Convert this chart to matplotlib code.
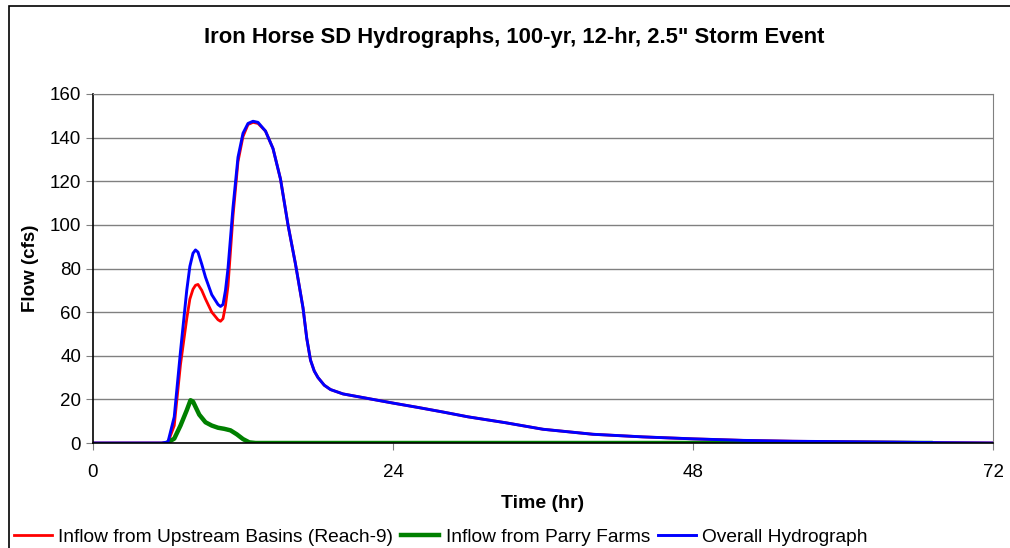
#!/usr/bin/env python3
import matplotlib
matplotlib.use('Agg')
import matplotlib.pyplot as plt
from matplotlib.patches import Rectangle

plt.rcParams['font.family'] = ['Liberation Sans', 'DejaVu Sans']

# time (hr) shared by the reach-9 inflow and the overall hydrograph
hours = [0, 5.5, 6, 6.5, 7, 7.5, 7.75, 8, 8.2, 8.4, 8.7, 9, 9.5, 10, 10.2,
         10.4, 10.6, 10.8, 11.2, 11.6, 12, 12.4, 12.8, 13.2, 13.8, 14.4, 15,
         15.6, 16.2, 16.8, 17.1, 17.4, 17.7, 18, 18.5, 19, 20, 22, 24, 26,
         28, 30, 33, 36, 40, 44, 48, 52, 56, 60, 64, 68, 72]

upstream_cfs = [0, 0, 0.3, 8, 36, 57, 66, 70.5, 72.3, 72.7, 70, 66, 60, 56.5,
                55.8, 57, 63, 72, 104, 129, 140.5, 146, 147, 146.5, 143, 135,
                121, 100, 82, 62, 48, 38, 33, 30, 26.5, 24.5, 22.5, 20.4,
                18.3, 16.3, 14.2, 12, 9.3, 6.3, 4.0, 2.8, 1.9, 1.2, 0.8, 0.6,
                0.4, 0.15, 0]

overall_cfs = [0, 0, 0.5, 12, 42, 70, 81, 87, 88.5, 87.5, 82, 76, 68, 63.5,
               62.6, 63.5, 70, 80, 108, 131, 142, 146.5, 147.5, 147, 143, 135,
               121, 100, 82, 62, 48, 38, 33, 30, 26.5, 24.5, 22.5, 20.4,
               18.3, 16.3, 14.2, 12, 9.3, 6.3, 4.0, 2.8, 1.9, 1.2, 0.8, 0.6,
               0.4, 0.15, 0]

# Parry Farms inflow only plotted from ~6 hr to ~67 hr
parry_hours = [5.9, 6.5, 7, 7.5, 7.8, 8, 8.5, 9, 9.5, 10, 10.5, 11, 11.5,
               12, 12.5, 13, 20, 40, 67]
parry_cfs = [0, 2, 8, 15, 19.6, 19, 13, 9.5, 8, 7, 6.5, 5.8, 4, 1.8, 0.3,
             0, 0, 0, 0]

x_ticks = [0, 24, 48, 72]
y_ticks = [0, 20, 40, 60, 80, 100, 120, 140, 160]

fig = plt.figure(figsize=(10.1, 5.48), dpi=100)
ax = fig.add_axes([93 / 1010, 1 - 443 / 548, 900 / 1010, 349 / 548])

# outer chart border (runs off the right and bottom edges)
fig.patches.append(Rectangle((9 / 1010, -0.05), 1.1, 1 - 6 / 548 + 0.05,
                             transform=fig.transFigure, fill=False,
                             edgecolor='black', linewidth=1.2))

ax.plot(hours, upstream_cfs, color='#FF0000', linewidth=2.0,
        label='Inflow from Upstream Basins (Reach-9)')
ax.plot(parry_hours, parry_cfs, color='#008000', linewidth=3.2,
        label='Inflow from Parry Farms')
ax.plot(hours, overall_cfs, color='#0000FF', linewidth=2.1,
        label='Overall Hydrograph')

ax.set_xlim(0, 72)
ax.set_ylim(0, 160)
ax.set_xticks(x_ticks)
ax.set_yticks(y_ticks)
ax.yaxis.grid(True, color='#808080', linewidth=1.0)
ax.set_axisbelow(True)
ax.tick_params(axis='both', labelsize=13.5, direction='out', length=5,
               color='#808080')
ax.tick_params(axis='x', pad=10)
for side in ['top', 'right']:
    ax.spines[side].set_color('#808080')
for side in ['left', 'bottom']:
    ax.spines[side].set_color('black')
    ax.spines[side].set_linewidth(1.2)

ax.set_xlabel('Time (hr)', fontsize=14, fontweight='bold', labelpad=10)
ax.set_ylabel('Flow (cfs)', fontsize=13.5, fontweight='bold', labelpad=8)
fig.text(0.5095, 1 - 38 / 548, 'Iron Horse SD Hydrographs, 100-yr, 12-hr, 2.5" Storm Event',
         ha='center', va='center', fontsize=15.8, fontweight='bold')

fig.legend(loc='center left', bbox_to_anchor=(14 / 1010, 1 - 537 / 548),
           ncol=3, frameon=False, fontsize=13.8, handlelength=2.0,
           handletextpad=0.32, columnspacing=0.4, borderaxespad=0,
           borderpad=0)

fig.savefig('out.png', dpi=100)
